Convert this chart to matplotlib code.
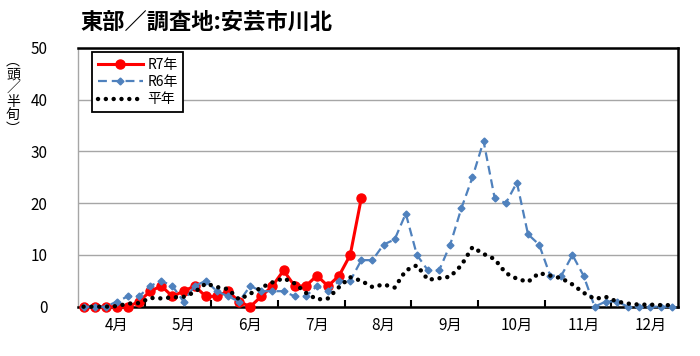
import matplotlib
matplotlib.use("Agg")
import matplotlib.pyplot as plt
import numpy as np

plt.rcParams['font.family'] = ['Noto Sans CJK JP', 'DejaVu Sans']

# 半旬 (5-day periods), 4月 1st to 12月 last: 54 periods
months = ['4月', '5月', '6月', '7月', '8月', '9月', '10月', '11月', '12月']

r7 = [0, 0, 0, 0, 0, 1, 3, 4, 2, 3, 4, 2, 2, 3, 1, 0, 2, 4, 7, 4,
      4, 6, 4, 6, 10, 21]

r6 = [0, 0, 0, 1, 2, 2, 4, 5, 4, 1, 4, 5, 3, 2, 1, 4, 3, 3, 3, 2,
      2, 4, 3, 5, 5, 9, 9, 12, 13, 18, 10, 7, 7, 12, 19, 25, 32, 21, 20, 24,
      14, 12, 6, 6, 10, 6, 0, 1, 1, 0, 0, 0, 0, 0]

normal = [0, 0, 0, 0.1, 0.6, 0.7, 1.7, 1.6, 1.8, 1.9, 2.8, 4.5, 3.8, 3.4, 1.4, 2.5,
          3.7, 4.7, 5.5, 4.5, 2.7, 1.4, 1.6, 3.8, 5.7, 5.0, 3.8, 4.3, 3.7, 7.0,
          8.0, 5.2, 5.5, 5.8, 8.0, 11.5, 10.2, 9.2, 6.5, 5.4, 4.8, 6.5, 6.0, 5.5,
          4.3, 2.7, 1.5, 1.9, 1.0, 0.6, 0.4, 0.4, 0.3, 0.3]

fig = plt.figure(figsize=(7, 3.56), dpi=100)
ax = fig.add_axes([78 / 700, 1 - 306.7 / 356, 600 / 700, (306.7 - 48) / 356])

x_all = np.arange(len(r6))
ax.plot(np.arange(len(r7)), r7, color='#ff0000', lw=2.2, marker='o', ms=6.5,
        label='R7年', clip_on=False, zorder=3)
ax.plot(x_all, r6, color='#4f81bd', lw=1.6, ls=(0, (4, 2.2)), marker='D', ms=3.5,
        label='R6年', clip_on=False, zorder=4)
ax.plot(x_all, normal, color='black', lw=3.2, ls=(0, (0.01, 1.75)),
        dash_capstyle='round', label='平年', clip_on=False, zorder=5)

ax.set_xlim(-0.5, len(r6) - 0.5)
ax.set_ylim(0, 50)
ax.set_yticks(range(0, 51, 10))
ax.yaxis.grid(True, color='#a6a6a6', lw=1)
ax.set_axisbelow(True)
ax.tick_params(axis='y', length=0, pad=22, labelsize=11)

ax.set_xticks([6 * k - 0.5 for k in range(1, 9)])
ax.set_xticklabels([])
ax.tick_params(axis='x', which='major', direction='in', length=5, width=1.5)
ax.set_xticks([3 + 6 * k for k in range(9)], minor=True)
ax.set_xticklabels(months, minor=True)
ax.tick_params(axis='x', which='minor', length=0, pad=7, labelsize=11)

for side in ['top', 'right', 'bottom']:
    ax.spines[side].set_color('black')
    ax.spines[side].set_linewidth(1.8)
ax.spines['left'].set_color('#a6a6a6')
ax.spines['left'].set_linewidth(1)

leg = ax.legend(loc='upper left', bbox_to_anchor=(92 / 700, 1 - 52 / 356),
                bbox_transform=fig.transFigure, borderaxespad=0, fontsize=10,
                handlelength=3.3, handletextpad=0.3, labelspacing=0.25,
                borderpad=0.4, fancybox=False, framealpha=1, edgecolor='black')
leg.get_frame().set_linewidth(1.3)

fig.text(80 / 700, 1 - 22 / 356, '東部／調査地:安芸市川北', fontsize=16,
         fontweight='bold', ha='left', va='center')
fig.text(13 / 700, 1 - 95 / 356, '\n'.join('︵頭／半旬︶'), fontsize=10,
         ha='center', va='center', linespacing=0.95)

fig.savefig('out.png', dpi=100)
